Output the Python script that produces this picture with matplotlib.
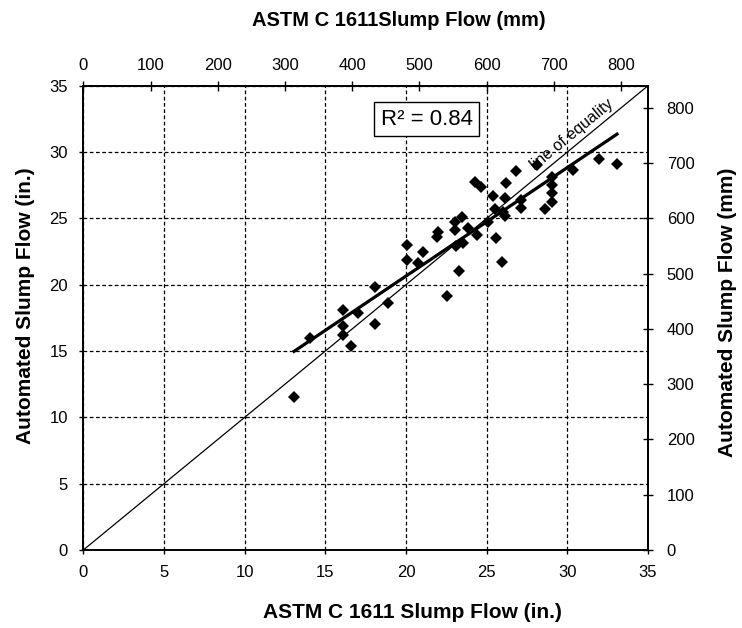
import matplotlib
matplotlib.use("Agg")
import matplotlib.pyplot as plt
import numpy as np

plt.rcParams["font.family"] = ["Liberation Sans", "DejaVu Sans"]

# 数据：ASTM C1611 坍落扩展度 vs 自动测量 (in.)
astm_in = [13.06, 14.05, 16.08, 16.08, 16.08, 16.58, 17.05, 18.08, 18.08, 18.91,
           20.05, 20.05, 20.77, 21.08, 21.91, 22.01, 22.57, 23.04, 23.04, 23.1,
           23.46, 23.54, 23.31, 23.85, 24.39, 24.28, 24.65, 25.11, 25.42, 25.52,
           25.59, 25.94, 26.0, 26.15, 26.14, 26.2, 26.83, 27.1, 27.1, 28.15,
           28.62, 29.07, 29.07, 29.07, 29.07, 30.36, 31.95, 33.08]
auto_in = [11.55, 15.95, 18.09, 16.9, 16.2, 15.37, 17.88, 19.84, 17.01, 18.59,
           22.98, 21.85, 21.6, 22.48, 23.61, 23.99, 19.14, 24.74, 24.11, 22.9,
           25.07, 23.13, 21.05, 24.27, 23.74, 27.76, 27.38, 24.7, 26.7, 25.7,
           23.49, 21.7, 25.45, 25.2, 26.55, 27.63, 28.58, 26.37, 25.78, 29.05,
           25.67, 28.1, 27.5, 26.88, 26.2, 28.64, 29.45, 29.1]

# 趋势线
trend_slope = 0.818
trend_intercept = 4.29
r2_text = "R² = 0.84"
mm_per_in = 24.0

W, H = 742, 628
fig = plt.figure(figsize=(W / 100, H / 100), dpi=100)
ax = fig.add_axes([0.1123, 0.1242, 0.7610, 0.7393])

ax.set_xlim(0, 35)
ax.set_ylim(0, 35)
ax.set_xticks(np.arange(0, 36, 5))
ax.set_yticks(np.arange(0, 36, 5))
ax.grid(True, color="black", linestyle=(0, (3, 2)), linewidth=0.9)
ax.set_axisbelow(True)
ax.tick_params(axis="both", direction="out", length=3, width=1.0, pad=8, labelsize=12)
for s in ax.spines.values():
    s.set_linewidth(1.4)

# line of equality
ax.plot([0, 35], [0, 35], color="black", linewidth=0.9, zorder=2)
ax.text(30.3, 31.3, "line of equality", rotation=45, transform_rotates_text=True,
        rotation_mode="anchor", ha="center", va="center", fontsize=11.5)

# trend line
tx = np.array([min(astm_in), max(astm_in)])
ax.plot(tx, trend_slope * tx + trend_intercept, color="black", linewidth=2.3, zorder=3)

ax.plot(astm_in, auto_in, linestyle="none", marker="D", markersize=6.4,
        color="black", markeredgewidth=0, zorder=4)

ax.text(0.608, 0.928, r2_text, transform=ax.transAxes, ha="center", va="center",
        fontsize=16, bbox=dict(boxstyle="square,pad=0.28", facecolor="white",
                               edgecolor="black", linewidth=1.0), zorder=5)

top = ax.secondary_xaxis("top", functions=(lambda x: x * mm_per_in, lambda x: x / mm_per_in))
top.set_xticks(np.arange(0, 801, 100))
top.tick_params(direction="inout", length=7, width=1.0, pad=6, labelsize=12)
top.spines["top"].set_linewidth(1.4)

right = ax.secondary_yaxis("right", functions=(lambda y: y * mm_per_in, lambda y: y / mm_per_in))
right.set_yticks(np.arange(0, 801, 100))
right.tick_params(direction="inout", length=7, width=1.0, pad=10, labelsize=12)
right.spines["right"].set_linewidth(1.4)

# 轴标题 (按像素位置放置)
lab = dict(fontsize=15, fontweight="bold")
fig.text(412.7 / W, 1 - 618 / H, "ASTM C 1611 Slump Flow (in.)", ha="center", va="baseline", **lab)
fig.text(399 / W, 1 - 20 / H, "ASTM C 1611Slump Flow (mm)", ha="center", va="center",
         fontsize=14.5, fontweight="bold")
fig.text(26 / W, 1 - 306 / H, "Automated Slump Flow (in.)", rotation=90, ha="center", va="center", **lab)
fig.text(727.5 / W, 1 - 312.5 / H, "Automated Slump Flow (mm)", rotation=90, ha="center", va="center", **lab)

fig.savefig("out.png", dpi=100)
